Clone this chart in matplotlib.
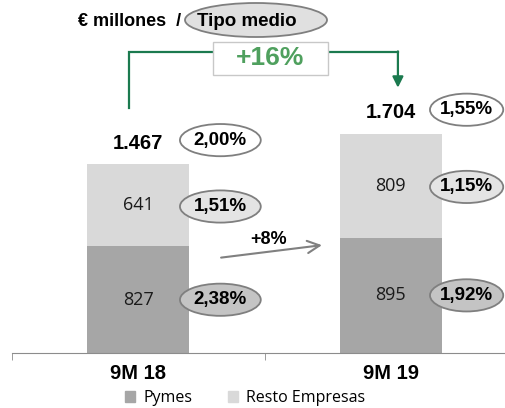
import matplotlib
matplotlib.use("Agg")
import matplotlib.pyplot as plt
from matplotlib.patches import Ellipse, Rectangle, Patch

categories = ["9M 18", "9M 19"]
pymes = [827, 895]
resto = [641, 809]
total_labels = ["1.467", "1.704"]
rate_total = ["2,00%", "1,55%"]
rate_pymes = ["2,38%", "1,92%"]
rate_resto = ["1,51%", "1,15%"]
growth_total = "+16%"
growth_pymes = "+8%"

W, H = 505, 408
BOLD = "Liberation Sans"
LIGHT = "Open Sans"
DARK_BAR = "#a6a6a6"
LIGHT_BAR = "#d9d9d9"
GREEN_LINE = "#1b7a4f"
GREEN_TEXT = "#4fa05e"
EDGE = "#7f7f7f"


def fx(px):
    return px / W


def fy(py):
    return 1 - py / H


fig = plt.figure(figsize=(W / 100, H / 100), dpi=100)
ax = fig.add_axes([fx(12), 55 / H, (W - 12) / W, (H - 55) / H])

x = list(range(len(categories)))
ax.bar(x, pymes, width=0.405, color=DARK_BAR, label="Pymes")
ax.bar(x, resto, width=0.405, bottom=pymes, color=LIGHT_BAR, label="Resto Empresas")

ax.set_xlim(-0.5, 1.452)
ax.set_ylim(0, 2741)
for s in ["top", "right", "left"]:
    ax.spines[s].set_visible(False)
ax.spines["bottom"].set_color("#8c8c8c")
ax.set_yticks([])
ax.set_xticks(x)
ax.set_xticklabels(categories, fontsize=14.5, fontweight="bold", family=BOLD)
ax.tick_params(axis="x", length=0, pad=8)
ax.set_xticks([-0.5, 0.5], minor=True)
ax.tick_params(axis="x", which="minor", length=5, color="#8c8c8c")

ell_dx = [0.325, 0.30]
ell_w = [0.32, 0.29]
ell_h = 250


def oval(cx, cy, w, txt, fc):
    e = Ellipse((cx, cy), w, ell_h, facecolor=fc, edgecolor=EDGE, lw=1.3,
                clip_on=False, zorder=3)
    ax.add_patch(e)
    ax.text(cx, cy, txt, ha="center", va="center", fontsize=13.5,
            fontweight="bold", family=BOLD, zorder=4)


for i in x:
    tot = pymes[i] + resto[i]
    ytot = tot + 160
    ax.text(i, ytot, total_labels[i], ha="center", va="center", fontsize=14.5,
            fontweight="bold", family=BOLD)
    oval(i + ell_dx[i], ytot + 25, ell_w[i], rate_total[i], "white")

    yr = pymes[i] + resto[i] / 2
    ax.text(i, yr, str(resto[i]), ha="center", va="center", fontsize=13,
            family=LIGHT, color="#1a1a1a")
    oval(i + ell_dx[i], yr - 10, ell_w[i], rate_resto[i], "#e4e4e4")

    yp = pymes[i] / 2
    ax.text(i, yp, str(pymes[i]), ha="center", va="center", fontsize=13,
            family=LIGHT, color="#1a1a1a")
    oval(i + ell_dx[i], yp, ell_w[i], rate_pymes[i], "#c4c4c4")

# +8% arrow between the Pymes segments
ax.annotate("", xy=(0.738, 840), xytext=(0.317, 738),
            arrowprops=dict(arrowstyle="->", color="#808080", lw=1.5,
                            mutation_scale=22))
ax.text(0.515, 880, growth_pymes, ha="center", va="center", fontsize=13,
        fontweight="bold", family=BOLD)

# +16% bracket
ytop = 2337
xl, xr = -0.036, 1.028
ax.plot([xl, xl, xr], [1902, ytop, ytop], color=GREEN_LINE, lw=1.6,
        clip_on=False, solid_joinstyle="miter")
ax.annotate("", xy=(xr, 2060), xytext=(xr, ytop + 5),
            arrowprops=dict(arrowstyle="-|>", color=GREEN_LINE, lw=1.6,
                            mutation_scale=16, shrinkA=0, shrinkB=0))
fig.add_artist(Rectangle((fx(213), fy(75)), 115 / W, 33 / H,
                         transform=fig.transFigure, facecolor="white",
                         edgecolor="#c8c8c8", lw=1, zorder=5))
fig.text(fx(270), fy(58), growth_total, ha="center", va="center",
         fontsize=19, fontweight="bold", family=BOLD, color=GREEN_TEXT,
         zorder=6)

# title
fig.text(fx(181), fy(22), "€ millones  /", ha="right", va="center",
         fontsize=13, fontweight="bold", family=BOLD)
fig.add_artist(Ellipse((fx(256), fy(20)), 142 / W, 34 / H,
                       transform=fig.transFigure, facecolor="#e0e0e0",
                       edgecolor=EDGE, lw=1.3, zorder=5))
fig.text(fx(247), fy(22), "Tipo medio", ha="center", va="center",
         fontsize=13.5, fontweight="bold", family=BOLD, zorder=6)

handles = [Patch(color=DARK_BAR, label="Pymes"),
           Patch(color=LIGHT_BAR, label="Resto Empresas")]
fig.legend(handles=handles, loc="center", bbox_to_anchor=(fx(245), fy(398)),
           ncol=2, frameon=False, prop={"family": LIGHT, "size": 11.5},
           handlelength=0.65, handleheight=0.65, handletextpad=0.5,
           columnspacing=2.2, borderpad=0)

fig.savefig("out.png", dpi=100)
